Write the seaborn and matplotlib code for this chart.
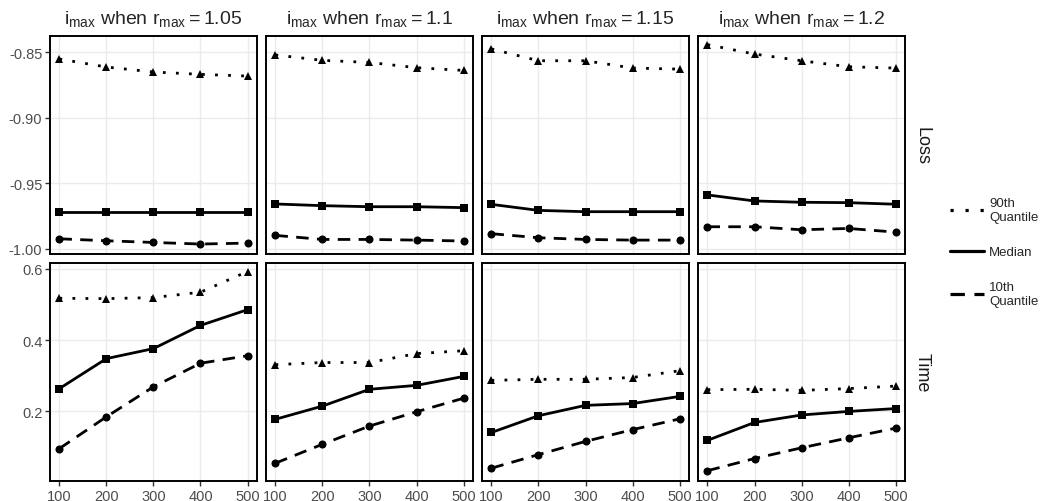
import matplotlib
matplotlib.use("Agg")
import matplotlib.pyplot as plt
import matplotlib.ticker as ticker
from matplotlib.lines import Line2D
import pandas as pd
import seaborn as sns

# ---------- data ----------
n_obs = [100, 200, 300, 400, 500]
r_max = ["1.05", "1.1", "1.15", "1.2"]
quantiles = ["90th", "Median", "10th"]

loss_q90 = [
    [-0.8551, -0.8612, -0.8650, -0.8668, -0.8681],
    [-0.8520, -0.8561, -0.8577, -0.8617, -0.8638],
    [-0.8474, -0.8564, -0.8564, -0.8620, -0.8628],
    [-0.8441, -0.8513, -0.8564, -0.8610, -0.8620],
]
loss_median = [
    [-0.9717, -0.9717, -0.9717, -0.9717, -0.9717],
    [-0.9658, -0.9671, -0.9679, -0.9679, -0.9686],
    [-0.9661, -0.9707, -0.9717, -0.9717, -0.9717],
    [-0.9589, -0.9635, -0.9645, -0.9648, -0.9660],
]
loss_q10 = [
    [-0.9924, -0.9939, -0.9952, -0.9964, -0.9957],
    [-0.9898, -0.9929, -0.9929, -0.9934, -0.9941],
    [-0.9885, -0.9916, -0.9929, -0.9934, -0.9934],
    [-0.9832, -0.9832, -0.9855, -0.9845, -0.9873],
]
time_q90 = [
    [0.517, 0.516, 0.519, 0.534, 0.592],
    [0.331, 0.337, 0.337, 0.362, 0.370],
    [0.287, 0.290, 0.290, 0.295, 0.314],
    [0.261, 0.262, 0.259, 0.264, 0.271],
]
time_median = [
    [0.264, 0.348, 0.376, 0.441, 0.485],
    [0.178, 0.215, 0.262, 0.273, 0.298],
    [0.141, 0.188, 0.217, 0.222, 0.242],
    [0.119, 0.169, 0.190, 0.200, 0.208],
]
time_q10 = [
    [0.096, 0.185, 0.269, 0.335, 0.356],
    [0.055, 0.108, 0.159, 0.199, 0.237],
    [0.041, 0.079, 0.116, 0.149, 0.179],
    [0.034, 0.068, 0.098, 0.126, 0.153],
]

legend_labels = ["90th\nQuantile", "Median", "10th\nQuantile"]

# ---------- long table ----------
rows = []
series = {
    "Loss": dict(zip(quantiles, [loss_q90, loss_median, loss_q10])),
    "Time": dict(zip(quantiles, [time_q90, time_median, time_q10])),
}
for metric, by_q in series.items():
    for q, values in by_q.items():
        for j, r in enumerate(r_max):
            for n, v in zip(n_obs, values[j]):
                rows.append(dict(metric=metric, r_max=r, quantile=q, n=n, value=v))
df = pd.DataFrame(rows)

# ---------- style ----------
sns.set_theme(style="whitegrid")
plt.rcParams["font.family"] = ["Liberation Sans", "DejaVu Sans"]
plt.rcParams["mathtext.fontset"] = "custom"
plt.rcParams["mathtext.rm"] = "Liberation Sans"
plt.rcParams["mathtext.it"] = "Liberation Sans:italic"
plt.rcParams["grid.color"] = "#EBEBEB"
plt.rcParams["grid.linewidth"] = 1.0
plt.rcParams["axes.edgecolor"] = "black"
plt.rcParams["axes.linewidth"] = 1.4

dash_map = {"90th": (1, 3.7), "Median": "", "10th": (4.5, 3)}
marker_map = {"90th": "^", "Median": "s", "10th": "o"}

f, axs = plt.subplots(2, 4, figsize=(10.46, 5.02), dpi=100, sharex=True, sharey="row")
plt.subplots_adjust(left=0.0478, right=0.8652, top=0.9263, bottom=0.0398,
                    wspace=0.044, hspace=0.044)

for i, metric in enumerate(["Loss", "Time"]):
    for j, r in enumerate(r_max):
        ax = axs[i][j]
        sub = df[(df["metric"] == metric) & (df["r_max"] == r)]
        sns.lineplot(
            data=sub, x="n", y="value",
            style="quantile", style_order=quantiles,
            dashes=dash_map, markers=marker_map,
            color="black", linewidth=2, markersize=5.8, markeredgewidth=0,
            legend=False, ax=ax,
        )
        ax.set_xlabel("")
        ax.set_ylabel("")
        ax.set_xlim(80, 520)
        ax.set_xticks(n_obs)
        ax.tick_params(axis="both", labelsize=10.5, labelcolor="#4D4D4D",
                       color="#333333", length=3.5, width=1, pad=2,
                       bottom=(i == 1), left=(j == 0))
        if i == 0:
            ax.set_title(r"$\mathrm{i_{max}}$ when $\mathrm{r_{max} = " + r + "}$",
                         fontsize=14, pad=9)
        if j == 3:
            ax.text(1 + 17 / 207, 0.5, metric, rotation=-90, transform=ax.transAxes,
                    ha="center", va="center", fontsize=13, color="#1A1A1A")

axs[0][0].set_ylim(-1.0038, -0.8375)
axs[0][0].set_yticks([-1.00, -0.95, -0.90, -0.85])
axs[0][0].yaxis.set_major_formatter(ticker.FormatStrFormatter("%.2f"))
axs[1][0].set_ylim(0.005, 0.615)
axs[1][0].set_yticks([0.2, 0.4, 0.6])
axs[1][0].yaxis.set_major_formatter(ticker.FormatStrFormatter("%.1f"))

handles = [
    Line2D([], [], color="black", linewidth=2.3, dashes=dash_map["90th"]),
    Line2D([], [], color="black", linewidth=2.3),
    Line2D([], [], color="black", linewidth=2.3, dashes=dash_map["10th"]),
]
f.legend(handles, legend_labels, loc="center left", bbox_to_anchor=(0.897, 0.496),
         frameon=False, fontsize=9.5, handlelength=2.6, handletextpad=0.35,
         labelspacing=1.75)

plt.savefig("out.png", dpi=100)
